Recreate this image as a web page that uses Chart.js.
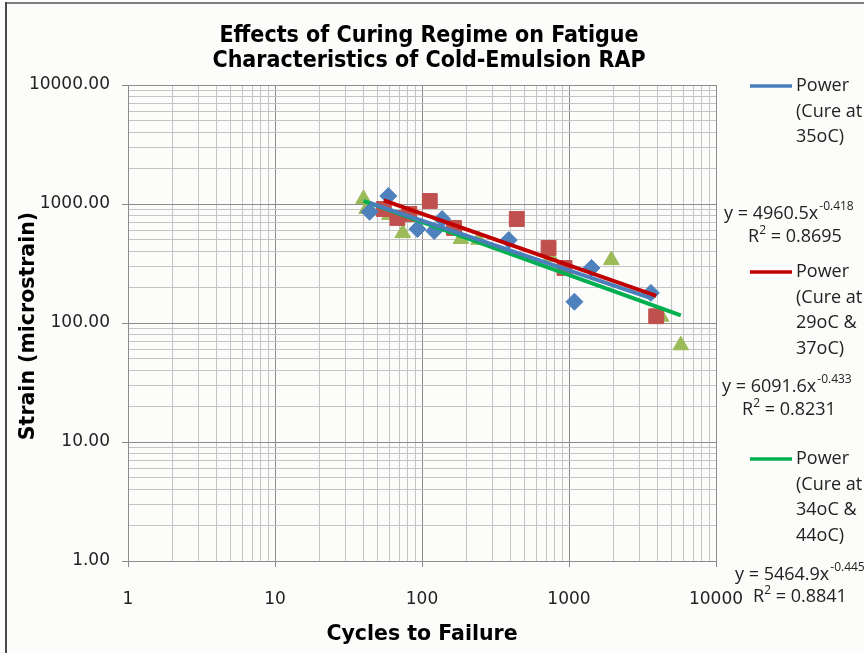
<!DOCTYPE html>
<html>
<head>
<meta charset="utf-8">
<script src="https://cdn.jsdelivr.net/npm/chart.js@4"></script>
<style>
  html, body { margin: 0; padding: 0; background: #ffffff; }
  #wrap { width: 864px; height: 653px; }
</style>
</head>
<body>
<div id="wrap"><canvas id="fatigueChart" width="864" height="653"></canvas></div>
<script>
// measured points (cycles, microstrain)
var cure35X = [44, 59, 93, 121, 137, 389, 1089, 1422, 3607];
var cure35Y = [861, 1167, 615, 593, 748, 498, 151, 290, 179];

var cure2937X = [55, 68, 82, 113, 165, 441, 726, 932, 3918];
var cure2937Y = [908, 763, 824, 1060, 629, 748, 427, 290, 114];

var cure3444X = [40, 42, 60, 74, 184, 243, 750, 1941, 4237, 5763];
var cure3444Y = [1102, 908, 809, 570, 508, 500, 359, 338, 113, 65];

// power trendline end points
var fit35X = [44, 3607];
var fit35Y = [1020, 162];
var fit2937X = [55, 3918];
var fit2937Y = [1073, 169];
var fit3444X = [40, 5763];
var fit3444Y = [1061, 116];

var xTicks = [1, 10, 100, 1000, 10000];
var yTicks = [1, 10, 100, 1000, 10000];
var minorSteps = [2, 3, 4, 5, 6, 7, 8, 9];

var legendNames = [
  ["Power", "(Cure at", "35oC)"],
  ["Power", "(Cure at", "29oC &", "37oC)"],
  ["Power", "(Cure at", "34oC &", "44oC)"]
];
var fitEquations = [
  ["y = 4960.5x", "-0.418", "0.8695"],
  ["y = 6091.6x", "-0.433", "0.8231"],
  ["y = 5464.9x", "-0.445", "0.8841"]
];

function pts(xs, ys) {
  return xs.map(function (x, i) { return { x: x, y: ys[i] }; });
}
function isMajor(v) {
  var l = Math.log10(v);
  return Math.abs(l - Math.round(l)) < 1e-9;
}
// grid positions: each decade plus its 2..9 sub-lines
function logTicks(majors) {
  var out = [];
  majors.forEach(function (m, i) {
    out.push({ value: m });
    if (i < majors.length - 1) {
      minorSteps.forEach(function (s) { out.push({ value: m * s }); });
    }
  });
  return out;
}

var blue = "#4f81bd", red = "#c0504d", green = "#9bbb59";
var blueLine = "#4a7ebb", redLine = "#c00000", greenLine = "#00b050";
var majorGrid = "#8c8c8c", minorGrid = "#c4c4c4";

var textPlugin = {
  id: "texts",
  beforeDraw: function (chart) {
    var c = chart.ctx;
    c.save();
    c.fillStyle = "#fcfcfa";
    c.fillRect(0, 0, chart.width, chart.height);
    c.fillStyle = "#7f7f7f";
    c.fillRect(5, 2, chart.width - 5, 2);
    c.fillStyle = "#4a4a4a";
    c.fillRect(5, 2, 2, chart.height - 2);
    c.restore();
  },
  afterDraw: function (chart) {
    var c = chart.ctx;
    c.save();
    c.fillStyle = "#000";
    c.textAlign = "center";
    c.textBaseline = "middle";
    c.font = "bold 23px 'DejaVu Sans Condensed'";
    c.fillText("Effects of Curing Regime on Fatigue", 429, 36);
    c.fillText("Characteristics of Cold-Emulsion RAP", 429, 61);

    c.font = "bold 20.5px 'DejaVu Sans'";
    c.fillText("Cycles to Failure", 422, 635);
    c.save();
    c.translate(29, 326);
    c.rotate(-Math.PI / 2);
    c.fillText("Strain (microstrain)", 0, 0);
    c.restore();

    // legend
    var lineColors = [blueLine, redLine, greenLine];
    var legendY = [86, 272, 459];
    c.textAlign = "left";
    c.font = "18px 'Open Sans'";
    c.fillStyle = "#222";
    legendNames.forEach(function (lines, i) {
      c.strokeStyle = lineColors[i];
      c.lineWidth = 3.5;
      c.beginPath();
      c.moveTo(750, legendY[i]);
      c.lineTo(792, legendY[i]);
      c.stroke();
      lines.forEach(function (t, j) {
        c.fillText(t, 796, legendY[i] + j * 25.5);
      });
    });

    // trendline equations
    var eqPos = [[724, 212, 795, 237], [722, 385, 789, 410], [735, 573, 800, 597]];
    fitEquations.forEach(function (eq, i) {
      var p = eqPos[i];
      c.textAlign = "left";
      c.font = "18px 'Open Sans'";
      c.fillText(eq[0], p[0], p[1] + 2);
      var w = c.measureText(eq[0]).width;
      c.font = "12px 'Open Sans'";
      c.fillText(eq[1], p[0] + w + 1, p[1] - 5);
      c.font = "18px 'Open Sans'";
      var rest = " = " + eq[2];
      var wR = c.measureText("R").width, wRest = c.measureText(rest).width;
      c.font = "12px 'Open Sans'";
      var w2 = c.measureText("2").width;
      var start = p[2] - (wR + w2 + wRest) / 2;
      c.font = "18px 'Open Sans'";
      c.fillText("R", start, p[3]);
      c.fillText(rest, start + wR + w2, p[3]);
      c.font = "12px 'Open Sans'";
      c.fillText("2", start + wR, p[3] - 6);
    });
    c.restore();
  }
};

function gridOpts() {
  return {
    color: function (ctx) { return ctx.tick && isMajor(ctx.tick.value) ? majorGrid : minorGrid; },
    tickColor: function (ctx) { return ctx.tick && isMajor(ctx.tick.value) ? majorGrid : "rgba(0,0,0,0)"; },
    tickLength: 6
  };
}

new Chart(document.getElementById("fatigueChart"), {
  type: "scatter",
  data: {
    datasets: [
      { label: "fit35", type: "line", data: pts(fit35X, fit35Y), borderColor: blueLine, borderWidth: 4, pointRadius: 0, order: 0 },
      { label: "fit2937", type: "line", data: pts(fit2937X, fit2937Y), borderColor: redLine, borderWidth: 4, pointRadius: 0, order: 0 },
      { label: "fit3444", type: "line", data: pts(fit3444X, fit3444Y), borderColor: greenLine, borderWidth: 4, pointRadius: 0, order: 0 },
      { label: "Cure at 35oC", data: pts(cure35X, cure35Y), pointStyle: "rectRot", pointRadius: 8.5, backgroundColor: blue, borderColor: blue, borderWidth: 1, order: 1 },
      { label: "Cure at 29oC & 37oC", data: pts(cure2937X, cure2937Y), pointStyle: "rect", pointRadius: 10.5, backgroundColor: red, borderColor: red, borderWidth: 1, order: 1 },
      { label: "Cure at 34oC & 44oC", data: pts(cure3444X, cure3444Y), pointStyle: "triangle", pointRadius: 9, backgroundColor: green, borderColor: green, borderWidth: 1, order: 1 }
    ]
  },
  options: {
    responsive: false,
    animation: false,
    layout: { padding: { top: 85, right: 148, left: 0, bottom: 0 } },
    plugins: {
      legend: { display: false },
      title: { display: false },
      tooltip: { enabled: false }
    },
    scales: {
      x: {
        type: "logarithmic",
        min: 1,
        max: 10000,
        afterFit: function (s) { s.height = 92; },
        afterBuildTicks: function (s) { s.ticks = logTicks(xTicks); },
        ticks: {
          autoSkip: false,
          maxRotation: 0,
          padding: 22,
          color: "#222",
          font: { family: "DejaVu Sans", size: 17 },
          callback: function (v) { return xTicks.indexOf(v) >= 0 ? String(v) : ""; }
        },
        grid: gridOpts(),
        border: { color: majorGrid }
      },
      y: {
        type: "logarithmic",
        min: 1,
        max: 10000,
        afterFit: function (s) { s.width = 128; },
        afterBuildTicks: function (s) { s.ticks = logTicks(yTicks); },
        ticks: {
          autoSkip: false,
          padding: 12,
          color: "#222",
          font: { family: "DejaVu Sans", size: 17 },
          callback: function (v) { return yTicks.indexOf(v) >= 0 ? v.toFixed(2) : ""; }
        },
        grid: gridOpts(),
        border: { color: majorGrid }
      }
    }
  },
  plugins: [textPlugin]
});
</script>
</body>
</html>
